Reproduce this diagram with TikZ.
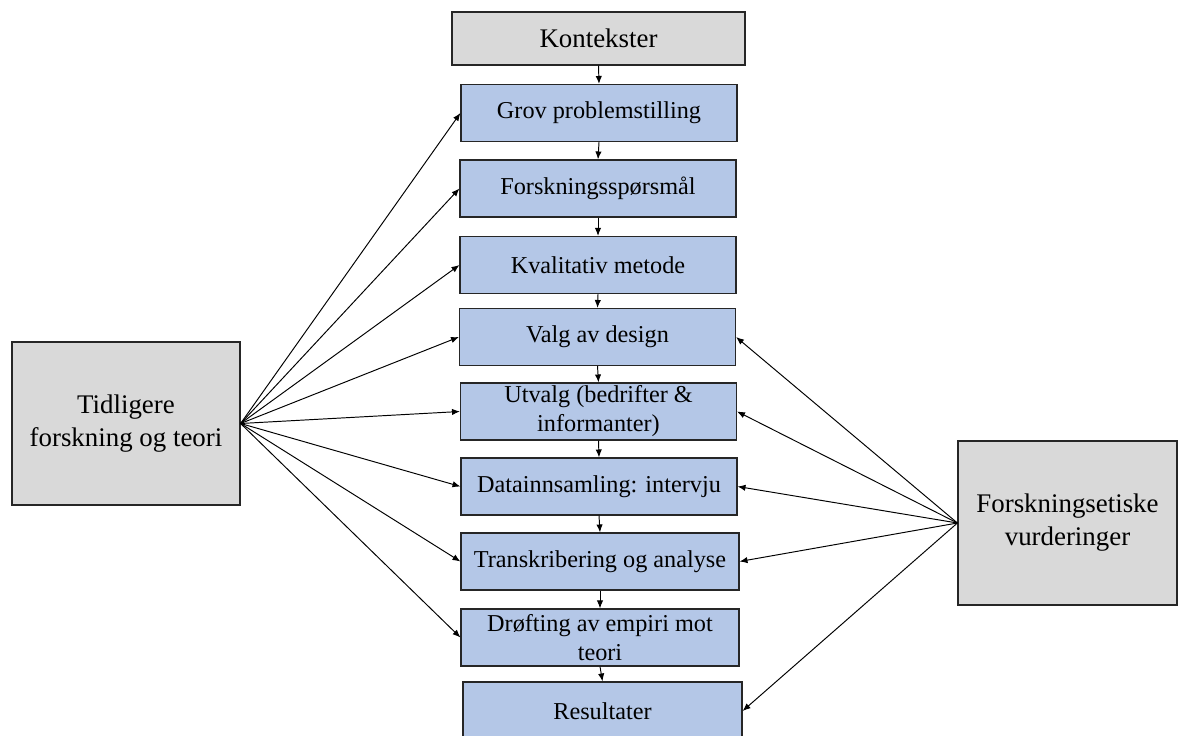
\documentclass[tikz,border=0pt]{standalone}
\usepackage{fontspec}
\setmainfont{Liberation Serif}
\usetikzlibrary{arrows.meta}
\definecolor{stegblaa}{RGB}{180,199,231}
\definecolor{kildegraa}{RGB}{217,217,217}

\begin{document}
\begin{tikzpicture}[x=0.02cm, y=-0.02cm,
    steg/.style={draw=black!85, line width=0.7pt, fill=stegblaa, minimum width=5.52cm, minimum height=1.14cm, inner sep=0pt, align=center, font=\fontsize{13.8}{16.5}\selectfont},
    kilde/.style={draw=black!85, line width=0.7pt, fill=kildegraa, inner sep=0pt, align=center, font=\fontsize{15.3}{18.8}\selectfont},
    pil/.style={-{Latex[length=4.5pt,width=3.6pt]}, line width=0.55pt}]
    \useasboundingbox (0,0) rectangle (1182,736);

    % Kontekster
    \node[kilde, minimum width=5.86cm, minimum height=1.06cm] (kontekster) at (598.5,38.5) {Kontekster};

    % Forskningsprosessen
    \node[steg] (grov) at (599,113) {Grov problemstilling};
    \node[steg] (sporsmal) at (598,188.5) {Forskningsspørsmål};
    \node[steg] (metode) at (598,265) {Kvalitativ metode};
    \node[steg] (design) at (597.5,337) {Valg av design};
    \node[steg] (utvalg) at (598.5,411.5) {Utvalg (bedrifter \&\\informanter)};
    \node[steg] (data) at (599,486.5) {Datainnsamling: intervju};
    \node[steg, minimum width=5.56cm] (transkribering) at (600,561.5) {Transkribering og analyse};
    \node[steg, minimum width=5.56cm] (drofting) at (600,637.5) {Drøfting av empiri mot\\teori};
    \node[steg, minimum width=5.58cm, minimum height=1.16cm] (resultater) at (602.5,711) {Resultater};

    % Tidligere forskning og etikk
    \node[kilde, minimum width=4.56cm, minimum height=3.26cm] (tidligere) at (126,423.5) {Tidligere\\forskning og teori};
    \node[kilde, minimum width=4.38cm, minimum height=3.28cm] (etikk) at (1067.5,523) {Forskningsetiske\\vurderinger};

    % Piler nedover
    \draw[pil] (kontekster.south) -- (grov.north);
    \draw[pil] (grov.south) -- (sporsmal.north);
    \draw[pil] (sporsmal.south) -- (metode.north);
    \draw[pil] (metode.south) -- (design.north);
    \draw[pil] (design.south) -- (utvalg.north);
    \draw[pil] (utvalg.south) -- (data.north);
    \draw[pil] (data.south) -- (transkribering.north);
    \draw[pil] (transkribering.south) -- (drofting.north);
    \draw[pil] (drofting.south) -- (resultater.north);

    % Piler fra tidligere forskning
    \draw[pil] (tidligere.east) -- (grov.west);
    \draw[pil] (tidligere.east) -- (sporsmal.west);
    \draw[pil] (tidligere.east) -- (metode.west);
    \draw[pil] (tidligere.east) -- (design.west);
    \draw[pil] (tidligere.east) -- (utvalg.west);
    \draw[pil] (tidligere.east) -- (data.west);
    \draw[pil] (tidligere.east) -- (transkribering.west);
    \draw[pil] (tidligere.east) -- (drofting.west);

    % Piler fra etikk
    \draw[pil] (etikk.west) -- (design.east);
    \draw[pil] (etikk.west) -- (utvalg.east);
    \draw[pil] (etikk.west) -- (data.east);
    \draw[pil] (etikk.west) -- (transkribering.east);
    \draw[pil] (etikk.west) -- (resultater.east);
\end{tikzpicture}
\end{document}
